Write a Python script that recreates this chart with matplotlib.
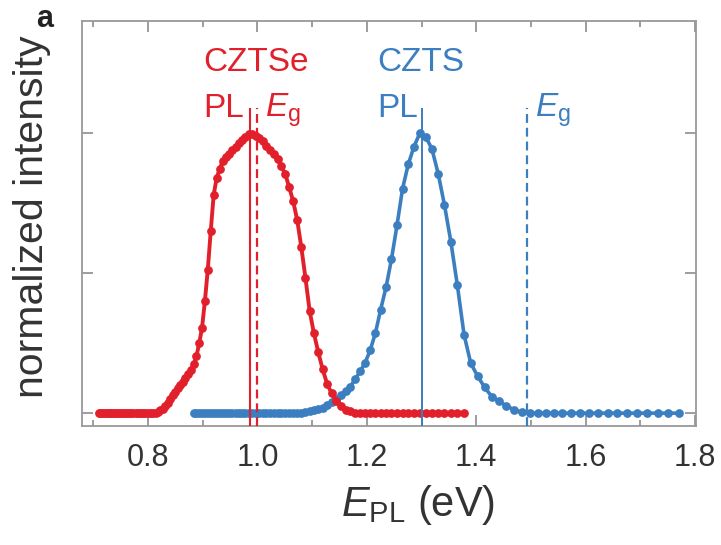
import numpy as np
import matplotlib
matplotlib.use("Agg")
import matplotlib.pyplot as plt
from matplotlib.ticker import MultipleLocator, FormatStrFormatter

plt.rcParams["font.family"] = ["Liberation Sans", "DejaVu Sans"]
plt.rcParams["mathtext.fontset"] = "custom"
plt.rcParams["mathtext.rm"] = "Liberation Sans"
plt.rcParams["mathtext.it"] = "Liberation Sans:italic"

RED = "#e2202c"
BLUE = "#3b7fc0"

# CZTSe photoluminescence spectrum (eV, normalized)
e_cztse = [
    0.7094, 0.7126, 0.7159, 0.7193, 0.7226, 0.7260, 0.7294, 0.7329, 0.7363, 0.7399,
    0.7434, 0.7470, 0.7506, 0.7543, 0.7579, 0.7617, 0.7654, 0.7692, 0.7731, 0.7769,
    0.7809, 0.7848, 0.7888, 0.7928, 0.7969, 0.8010, 0.8052, 0.8094, 0.8136,
    0.8179, 0.8223, 0.8267, 0.8311, 0.8356, 0.8401, 0.8447, 0.8493, 0.8540, 0.8587,
    0.8635, 0.8683, 0.8732, 0.8782, 0.8832, 0.8883, 0.8934, 0.8986, 0.9038, 0.9091,
    0.9145, 0.9199, 0.9254, 0.9309, 0.9366, 0.9422, 0.9480, 0.9538, 0.9598, 0.9657,
    0.9718, 0.9779, 0.9841, 0.9904, 0.9968, 1.0032, 1.0098, 1.0164, 1.0231, 1.0299,
    1.0368, 1.0438, 1.0508, 1.0580, 1.0653, 1.0727, 1.0801, 1.0877, 1.0954, 1.1032,
    1.1111, 1.1191, 1.1273, 1.1355, 1.1439, 1.1524, 1.1610, 1.1698, 1.1787, 1.1877,
    1.1969, 1.2062, 1.2157, 1.2253, 1.2351, 1.2450, 1.2551, 1.2653, 1.2757, 1.2863,
    1.2971, 1.3080, 1.3191, 1.3305, 1.3420, 1.3537, 1.3656, 1.3778,
]
i_cztse = [
    0.0, 0.0, 0.0, 0.0, 0.0, 0.0, 0.0, 0.0, 0.0, 0.0,
    0.0, 0.0, 0.0, 0.0, 0.0, 0.0, 0.0, 0.0, 0.0, 0.0,
    0.0, 0.0, 0.0, 0.0, 0.0, 0.0, 0.0, 0.0, 0.0,
    0.004, 0.010, 0.016, 0.025, 0.037, 0.050, 0.063, 0.076, 0.088, 0.100,
    0.112, 0.124, 0.138, 0.155, 0.174, 0.203, 0.249, 0.305, 0.400, 0.512,
    0.650, 0.780, 0.840, 0.872, 0.900, 0.915, 0.927, 0.939, 0.951, 0.963,
    0.975, 0.987, 0.998, 0.995, 0.990, 0.984, 0.970, 0.953, 0.938, 0.925,
    0.906, 0.882, 0.853, 0.807, 0.756, 0.689, 0.593, 0.483, 0.365, 0.285,
    0.218, 0.157, 0.105, 0.071, 0.043, 0.025, 0.011, 0.006, 0.002, 0.001,
    0.0, 0.0, 0.0, 0.0, 0.0, 0.0, 0.0, 0.0, 0.0, 0.0,
    0.0, 0.0, 0.0, 0.0, 0.0, 0.0, 0.0, 0.0,
]

# CZTS photoluminescence spectrum (eV, normalized)
e_czts = [
    0.8832, 0.8883, 0.8934, 0.8986, 0.9038, 0.9091, 0.9145, 0.9199, 0.9254, 0.9309,
    0.9366, 0.9422, 0.9480, 0.9538, 0.9598, 0.9657, 0.9718, 0.9779, 0.9841, 0.9904,
    0.9968, 1.0032, 1.0098, 1.0164, 1.0231, 1.0299, 1.0368, 1.0438, 1.0508, 1.0580,
    1.0653, 1.0727,
    1.0801, 1.0877, 1.0954, 1.1032, 1.1111, 1.1191, 1.1273, 1.1355, 1.1439, 1.1524,
    1.1610, 1.1698, 1.1787, 1.1877, 1.1969, 1.2062, 1.2157, 1.2253, 1.2351, 1.2450,
    1.2551, 1.2653, 1.2757, 1.2863, 1.2971, 1.3080, 1.3191, 1.3305, 1.3420, 1.3537,
    1.3656, 1.3778, 1.3901, 1.4027, 1.4155, 1.4286, 1.4419, 1.4554, 1.4692, 1.4833,
    1.4976,
    1.5122, 1.5271, 1.5423, 1.5578, 1.5736, 1.5897, 1.6062, 1.6230, 1.6402, 1.6578,
    1.6757, 1.6940, 1.7127, 1.7318, 1.7514, 1.7714,
]
i_czts = [
    0.0, 0.0, 0.0, 0.0, 0.0, 0.0, 0.0, 0.0, 0.0, 0.0,
    0.0, 0.0, 0.0, 0.0, 0.0, 0.0, 0.0, 0.0, 0.0, 0.0,
    0.0, 0.0, 0.0, 0.0, 0.0, 0.0, 0.0, 0.0, 0.0, 0.0,
    0.001, 0.001,
    0.001, 0.003, 0.006, 0.010, 0.015, 0.020, 0.030, 0.041, 0.052, 0.064,
    0.079, 0.095, 0.121, 0.149, 0.180, 0.225, 0.286, 0.370, 0.449, 0.549,
    0.670, 0.801, 0.888, 0.952, 1.000, 0.986, 0.943, 0.855, 0.743, 0.612,
    0.456, 0.280, 0.178, 0.132, 0.092, 0.059, 0.042, 0.026, 0.012, 0.003,
    0.0,
    0.0, 0.0, 0.0, 0.0, 0.0, 0.0, 0.0, 0.0, 0.0, 0.0,
    0.0, 0.0, 0.0, 0.0, 0.0, 0.0,
]

# PL peak and band gap positions (eV)
pl_cztse, eg_cztse = 0.986, 1.000
pl_czts, eg_czts = 1.300, 1.493

fig = plt.figure(figsize=(7.21, 5.45), dpi=100)
ax = fig.add_axes([0.1137, 0.2183, 0.8516, 0.7431])
ax.set_xlim(0.679, 1.802)
ax.set_ylim(-0.046, 1.40)
y0, ytop = ax.get_ylim()[0], 1.09

ax.plot(e_czts, i_czts, "-o", color=BLUE, lw=2.6, ms=6.3, mew=0, zorder=2)
ax.plot(e_cztse, i_cztse, "-o", color=RED, lw=2.8, ms=6.3, mew=0, zorder=3)

ax.vlines(pl_cztse, y0, ytop, color=RED, lw=1.5, zorder=4)
ax.vlines(eg_cztse, y0, ytop, color=RED, lw=1.6, linestyles=(0, (4, 2.2)), zorder=4)
ax.vlines(pl_czts, y0, ytop, color=BLUE, lw=1.4, zorder=4)
ax.vlines(eg_czts, y0, ytop, color=BLUE, lw=1.6, linestyles=(0, (4, 2.2)), zorder=4)

fs = 24
ax.text(0.9006, 1.221, "CZTSe", color=RED, fontsize=fs, va="baseline")
ax.text(0.9006, 1.058, "PL", color=RED, fontsize=fs, va="baseline")
ax.text(1.014, 1.058, r"$E_{\mathrm{g}}$", color=RED, fontsize=fs, va="baseline")
ax.text(1.2187, 1.221, "CZTS", color=BLUE, fontsize=fs, va="baseline")
ax.text(1.2187, 1.058, "PL", color=BLUE, fontsize=fs, va="baseline")
ax.text(1.5075, 1.058, r"$E_{\mathrm{g}}$", color=BLUE, fontsize=fs, va="baseline")

ax.xaxis.set_major_locator(MultipleLocator(0.2))
ax.xaxis.set_minor_locator(MultipleLocator(0.1))
ax.xaxis.set_major_formatter(FormatStrFormatter("%.1f"))
ax.set_yticks([0, 0.5, 1.0])
ax.set_yticklabels([])
ax.tick_params(which="both", direction="in", top=True, right=True,
               color="#8c8c8c", width=1.2)
ax.tick_params(which="major", length=8)
ax.tick_params(which="minor", length=4)
ax.tick_params(axis="x", labelsize=22, labelcolor="#333333", pad=12)
for sp in ax.spines.values():
    sp.set_color("#999999")
    sp.set_linewidth(1.3)

ax.set_xlabel(r"$E_{\mathrm{PL}}$ (eV)", fontsize=30, color="#333333")
ax.xaxis.set_label_coords(0.547, -0.14)
ax.set_ylabel("normalized intensity", fontsize=29.5, color="#333333")
ax.yaxis.set_label_coords(-0.05, 0.516)

fig.text(45 / 721, 1 - 19 / 545, "a", fontsize=22, weight="bold",
         color="#222222", ha="center", va="center")

fig.savefig("out.png", dpi=100)
plt.close(fig)
